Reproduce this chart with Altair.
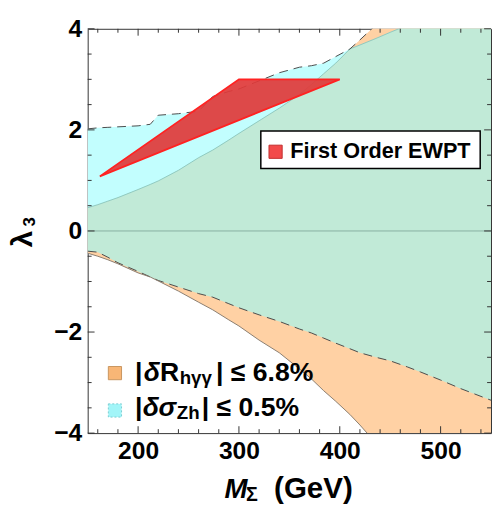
import altair as alt
import pandas as pd

FONT = "Liberation Sans"

# ---- boundary curves (x = M_Sigma in GeV, y = lambda_3) ----
mass = [150, 160, 170, 180, 200, 212, 220, 240, 260, 274, 290, 300, 320, 340, 360,
        372, 384, 396, 410, 420, 436, 450, 467, 480, 500, 520, 550]
# |delta sigma_Zh| <= 0.5% region (cyan)
upper_zh = [2.02, 2.04, 2.05, 2.06, 2.08, 2.11, 2.29, 2.32, 2.37, 2.66, 2.76, 2.81, 2.97, 3.13, 3.24,
            3.27, 3.32, 3.45, 3.60, 3.68, 3.81, 3.93, 4.07, 4.20, 4.40, 4.60, 4.90]
lower_zh = [-0.40, -0.42, -0.52, -0.63, -0.80, -0.91, -0.98, -1.11, -1.24, -1.31, -1.44, -1.52, -1.66, -1.79, -1.94,
            -2.02, -2.12, -2.22, -2.33, -2.41, -2.50, -2.57, -2.69, -2.79, -2.95, -3.12, -3.35]
# |delta R_hgg| <= 6.8% region (orange)
upper_hgg = [0.46, 0.52, 0.59, 0.66, 0.82, 0.92, 0.99, 1.20, 1.45, 1.60, 1.80, 1.93, 2.18, 2.43, 2.70,
             2.90, 3.11, 3.32, 3.60, 3.78, 4.08, 4.30, 4.60, 4.80, 5.20, 5.50, 6.00]
lower_hgg = [-0.44, -0.50, -0.57, -0.65, -0.83, -0.91, -0.99, -1.19, -1.41, -1.56, -1.76, -1.88, -2.16, -2.41, -2.73,
             -2.93, -3.16, -3.37, -3.63, -3.84, -4.20, -4.50, -4.80, -5.10, -5.50, -5.90, -6.50]

# First order EWPT region (red)
ewpt_mass = [162, 300, 400]
ewpt_low = [1.08, 2.19, 3.00]
ewpt_high = [1.08, 3.00, 3.00]
ewpt_outline_mass = [162, 300, 400, 162]
ewpt_outline_lam = [1.08, 3.00, 3.00, 1.08]

# ticks
x_labels = [200, 300, 400, 500]
x_minor = [160, 180, 220, 240, 260, 280, 320, 340, 360, 380, 420, 440, 460, 480, 520, 540]
y_labels = [-4, -2, 0, 2, 4]
y_minor = [-3.5, -3, -2.5, -1.5, -1, -0.5, 0.5, 1, 1.5, 2.5, 3, 3.5]
zero_line = [0]

W, H = 410, 411
CYAN = "#C2FEFE"
ORANGE = "#FFD1A4"
MINT = "#C1EAD7"

XS = alt.Scale(domain=[150, 550], nice=False, zero=False)
YS = alt.Scale(domain=[-4, 4], nice=False, zero=False)
XAX = alt.Axis(values=x_labels, ticks=False, domain=False, grid=False, labelFont=FONT,
               labelFontWeight="bold", labelFontSize=25, labelColor="black", labelPadding=6,
               labelFlush=False)
YAX = alt.Axis(values=y_labels, ticks=False, domain=False, grid=False, labelFont=FONT,
               labelFontWeight="bold", labelFontSize=25, labelColor="black", labelPadding=6,
               labelFlush=False)


def xe(field="m:Q"):
    return alt.X(field, scale=XS, axis=XAX, title=None)


def ye(field):
    return alt.Y(field, scale=YS, axis=YAX, title=None)


df = pd.DataFrame({"m": mass, "uc": upper_zh, "lc": lower_zh, "uo": upper_hgg, "lo": lower_hgg})
base = alt.Chart(df)

cyan = base.mark_area(color=CYAN, clip=True).encode(x=xe(), y=ye("lc:Q"), y2=alt.Y2("uc:Q", title=None))
orange = base.mark_area(color=ORANGE, clip=True).encode(x=xe(), y=ye("lo:Q"), y2=alt.Y2("uo:Q", title=None))
mint = base.transform_calculate(
    lo2="max(datum.lc, datum.lo)", hi2="min(datum.uc, datum.uo)"
).mark_area(color=MINT, clip=True).encode(x=xe(), y=ye("lo2:Q"), y2=alt.Y2("hi2:Q", title=None))

zero = alt.Chart(pd.DataFrame({"v": zero_line})).mark_rule(color="#88AFA2", strokeWidth=1).encode(
    y=ye("v:Q"), x=alt.value(0), x2=alt.value(W))

inner_up = base.transform_calculate(v="min(datum.uc, datum.uo)").mark_line(
    color="#86C6C0", strokeWidth=0.9, clip=True).encode(x=xe(), y=ye("v:Q"))
dash_up = base.transform_calculate(v="max(datum.uc, datum.uo)").mark_line(
    color="#4A4A4A", strokeWidth=1, strokeDash=[9, 6], clip=True).encode(x=xe(), y=ye("v:Q"))
dash_low = base.mark_line(color="#4A4A4A", strokeWidth=1, strokeDash=[9, 6], clip=True).encode(
    x=xe(), y=ye("lc:Q"))
solid_low = base.mark_line(color="#8A7D70", strokeWidth=1, clip=True).encode(x=xe(), y=ye("lo:Q"))

ewpt = alt.Chart(pd.DataFrame({"m": ewpt_mass, "a": ewpt_low, "b": ewpt_high})).mark_area(
    color="#E03A3A", opacity=0.92, clip=True).encode(x=xe(), y=ye("a:Q"), y2=alt.Y2("b:Q", title=None))
ewpt_line = alt.Chart(pd.DataFrame({"m": ewpt_outline_mass, "l": ewpt_outline_lam,
                                    "o": list(range(len(ewpt_outline_mass)))})).mark_line(
    color="#FF2222", strokeWidth=1.8, clip=True).encode(x=xe(), y=ye("l:Q"), order="o:Q")

TICK = "#333333"


def xticks(vals, length):
    d = alt.Chart(pd.DataFrame({"m": vals}))
    bottom = d.mark_rule(color=TICK, strokeWidth=1).encode(x=xe(), y=alt.value(H), y2=alt.value(H - length))
    top = d.mark_rule(color=TICK, strokeWidth=1).encode(x=xe(), y=alt.value(0), y2=alt.value(length))
    return [bottom, top]


def yticks(vals, length):
    d = alt.Chart(pd.DataFrame({"v": vals}))
    left = d.mark_rule(color=TICK, strokeWidth=1).encode(y=ye("v:Q"), x=alt.value(0), x2=alt.value(length))
    right = d.mark_rule(color=TICK, strokeWidth=1).encode(y=ye("v:Q"), x=alt.value(W), x2=alt.value(W - length))
    return [left, right]


ticks = xticks(x_labels, 7) + xticks(x_minor, 4) + yticks(y_labels, 7) + yticks(y_minor, 4)

ONE = alt.Data(values=[{}])


def txt(text, x, y, size, style="normal", angle=0):
    return alt.Chart(ONE).mark_text(
        text=text, font=FONT, fontSize=size, fontWeight="bold", fontStyle=style,
        align="left", baseline="alphabetic", color="black", angle=angle
    ).encode(x=alt.value(x), y=alt.value(y))


def swatch(x, y, fill, stroke, dash=None):
    kw = dict(shape="square", size=180, filled=True, fill=fill, stroke=stroke, strokeWidth=1, opacity=1)
    if dash:
        kw["strokeDash"] = dash
    return alt.Chart(ONE).mark_point(**kw).encode(x=alt.value(x), y=alt.value(y))


legend_box = alt.Chart(ONE).mark_rect(fill="white", stroke="black", strokeWidth=1.5).encode(
    x=alt.value(176), x2=alt.value(399), y=alt.value(104), y2=alt.value(142))
legend_items = [
    legend_box,
    swatch(191, 125, "#F24A4A", "#C23030"),
    txt("First Order EWPT", 206, 131, 22),
    swatch(27.7, 350, "#F8B676", "#C9955F"),
    txt("|", 48, 358, 27),
    txt("δ", 57, 358, 27, "italic"),
    txt("R", 73.5, 358, 27),
    txt("hγγ", 93.5, 361, 19),
    txt("| ≤ 6.8%", 130.5, 358, 27),
    swatch(27.7, 388, "#A2F5F8", "#7CCDD2", [2, 2]),
    txt("|", 48, 393.3, 27),
    txt("δ", 56, 393.3, 27, "italic"),
    txt("σ", 72, 393.3, 27, "italic"),
    txt("Zh", 90.5, 396.3, 19),
    txt("| ≤ 0.5%", 116, 393.3, 27),
    # axis titles
    txt("M", 139, 476.7, 28, "italic"),
    txt("Σ", 161, 480, 20),
    txt("(GeV)", 189.5, 476.7, 30),
    txt("λ", -57, 222, 30, angle=270),
    txt("3", -54, 201, 17, angle=270),
]

chart = alt.layer(
    cyan, orange, mint, zero, inner_up, dash_up, dash_low, solid_low, ewpt, ewpt_line,
    *ticks, *legend_items
).properties(
    width=W, height=H,
    autosize=alt.AutoSizeParams(type="none"),
    padding={"left": 81, "top": 17, "right": 1, "bottom": 73},
).configure_view(stroke="#333333", strokeWidth=1)

chart.save("out.html", embed_options={"renderer": "svg", "actions": False})
